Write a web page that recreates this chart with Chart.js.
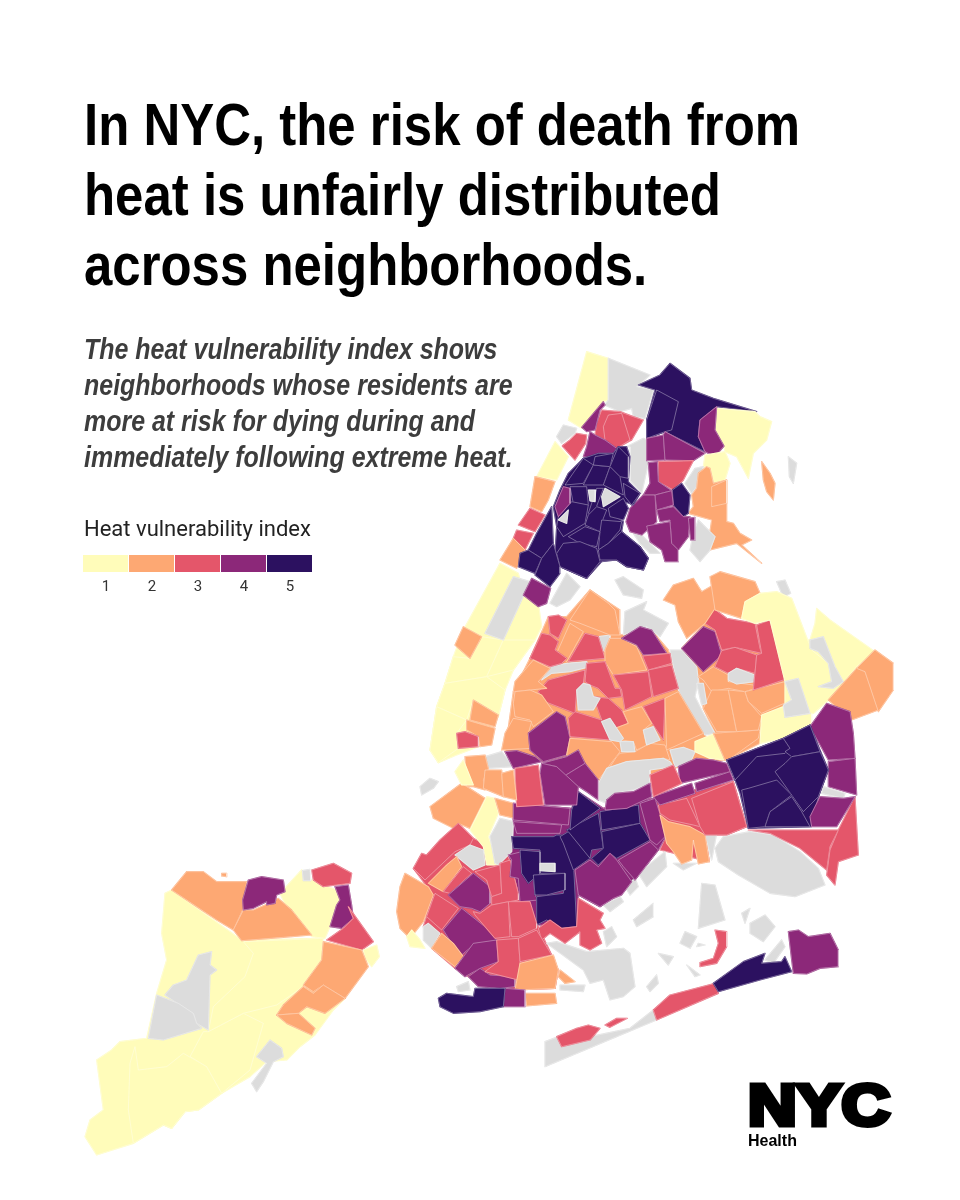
<!DOCTYPE html>
<html><head><meta charset="utf-8">
<script src="https://cdn.jsdelivr.net/npm/chart.js@4"></script>
<style>
html,body{margin:0;padding:0;background:#fff;width:960px;height:1200px;overflow:hidden}
#c{position:absolute;left:0;top:0}
.t{position:absolute;white-space:nowrap;transform-origin:0 0}
#title{left:84px;top:90px;font:bold 60px/70px "Liberation Sans",sans-serif;color:#000;transform:scaleX(.849)}
#sub{left:84px;top:331px;font:italic bold 30px/36px "Liberation Sans",sans-serif;color:#3d3d3d;transform:scaleX(.832)}
#lt{left:84px;top:516px;font:22px/26px Roboto,sans-serif;color:#222}
.sw{position:absolute;top:555px;height:17px}
.ll{position:absolute;top:577px;font:15px/18px Roboto,sans-serif;color:#333;width:46px;text-align:center}
#nyc{left:748px;top:1065px;font:900 58px/80px "Liberation Sans",sans-serif;color:#000;-webkit-text-stroke:5px #000;transform:scaleX(1.16)}
#hl{left:748px;top:1131px;font:bold 16px/20px "Liberation Sans",sans-serif;color:#000}
</style></head><body>
<canvas id="c" width="960" height="1200"></canvas>
<div class="t" id="title">In NYC, the risk of death from<br>heat is unfairly distributed<br>across neighborhoods.</div>
<div class="t" id="sub">The heat vulnerability index shows<br>neighborhoods whose residents are<br>more at risk for dying during and<br>immediately following extreme heat.</div>
<div class="t" id="lt">Heat vulnerability index</div>
<div id="leg"></div>
<div class="t" id="nyc">NYC</div>
<div class="t" id="hl">Health</div>
<script>
// index class colours: 0 = no data, 1..5 = heat vulnerability index
const levelColors = ['#dcdcdc','#fffcba','#fda873','#e4566a','#8c2879','#2c1160'];
const legendLabels = ['1','2','3','4','5'];

// Each area: [index class, x, y, x, y ...] on a 3x grid
const queensLand = [
[2,330,295,385,170,440,170,510,90,600,150,600,225,690,205,745,270,775,385,850,520,920,600,780,620,690,645,540,680,495,610,440,590,365,605,255,575,280,395],
[2,785,265,855,190,1010,195,1050,180,1105,355,1115,420,1095,465,1020,550,920,600,885,520,850,445,835,350],
[1,1165,240,1210,230,1310,320,1225,420,1180,460,1095,465,1095,365,1140,300],
];
const brooklynLand = [
[3,640,85,790,55,1030,5,1070,140,1010,165,945,165,958,245,810,210,830,165],
[4,370,70,545,85,565,35,640,85,790,55,830,165,805,210,735,300,670,355,630,380,565,345,560,440,440,435,385,340,355,225,370,170],
[3,70,265,205,130,250,175,355,230,385,340,440,430,485,525,505,570,495,625,375,630,345,625,235,590,195,565,125,505,100,440,130,345],
];

const bronxAreas = [
[1,500,35,565,55,565,180,550,185,485,265,445,240],
[0,565,55,690,105,650,140,700,150,675,235,640,230,635,205,600,215,553,195,565,180],
[5,655,135,720,105,750,70,810,115,815,150,880,175,1010,215,890,200,840,240,835,290,855,335,735,275,680,295,680,240,705,150],
[5,710,150,775,185,755,270,735,275,680,295,680,240],
[1,890,205,1005,215,1020,230,1055,245,1040,300,1000,340,985,415,950,350,915,335,912,318,885,270],
[4,890,200,840,240,835,290,855,335,885,350,912,318,885,270],
[1,855,345,915,335,930,370,915,420,880,430,870,385,850,380],
[0,825,385,850,380,830,440,815,460,795,430],
[2,860,380,835,400,830,445,815,465,820,500,805,520,875,540,870,575,885,590,870,630,950,610,1025,670,965,615,995,600,960,580,940,550,920,545,920,420,880,430,870,385],
[2,875,440,920,420,920,490,875,500],
[2,1025,365,1050,400,1065,430,1060,480,1040,455,1030,420],
[0,1105,350,1130,370,1120,430,1108,410],
[0,835,540,870,575,885,590,870,630,840,665,810,630,820,580],
[0,620,320,630,320,630,420,665,460,685,370,680,300,670,295],
[0,640,580,665,585,690,610,720,640,690,640,660,610],
[4,680,295,730,285,735,360,680,362],
[4,735,275,855,340,820,362,735,360,730,285],
[3,715,365,820,362,790,420,760,450,715,425],
[4,685,368,712,365,715,425,755,452,705,465,670,465,690,430],
[5,785,430,810,465,805,520,790,530,760,495,757,450],
[4,705,465,755,452,760,495,710,510],
[4,670,465,705,465,710,545,665,585,630,575,618,545,630,505],
[4,710,510,760,500,790,530,810,530,805,590,775,630,755,610,750,540,720,545],
[4,680,558,750,545,755,610,775,630,775,665,735,665,725,630,690,605],
[4,805,535,825,532,825,600,812,600],
[3,545,210,600,215,640,230,670,240,635,300,590,325,555,300,525,285,530,250],
[3,565,225,605,220,630,300,590,325,555,300,550,260],
[4,550,185,555,195,540,210,525,270,500,275,485,262],
[4,510,275,525,285,555,300,590,325,580,340,535,340,525,355,490,350,500,320],
[0,410,290,430,255,470,265,465,280,425,310],
[3,430,315,450,300,470,280,500,285,497,310,465,360,427,318],
[1,405,305,445,350,410,420,350,410],
[2,345,410,405,425,385,480,365,515,330,500],
[3,330,505,375,525,345,575,295,555],
[3,290,570,340,580,315,630,280,595],
[2,280,595,315,630,290,685,240,660],
[5,490,355,535,340,580,340,595,320,620,320,630,350,625,425,660,460,640,495,600,480,565,510,570,520,610,545,605,575,660,620,685,655,670,690,620,680,590,660,545,665,500,715,420,680,405,640,410,560,400,500,420,450,445,400],
[5,435,435,490,355,520,375,490,430],
[5,520,375,570,380,550,435,490,435],
[5,525,350,580,340,570,380,520,375],
[5,570,380,595,320,625,350,625,415,600,410],
[5,570,380,600,410,610,465,550,435],
[5,610,430,660,460,635,495,615,470],
[5,450,440,500,440,505,495,460,490],
[5,530,445,550,445,520,525,505,520],
[5,565,505,610,475,625,505,610,540,570,530],
[5,455,485,505,495,495,550,430,590,410,560,415,530],
[5,505,525,530,500,560,510,550,535,540,575,495,555],
[5,545,540,605,545,600,570,565,610,535,630,540,575],
[5,565,610,605,575,660,620,685,655,670,690,620,680,590,660,540,660,535,630],
[5,445,590,495,560,540,575,530,620,480,610],
[5,430,610,480,605,530,625,540,665,500,715,420,680,410,640],
[4,430,440,450,445,450,490,415,530,405,500],
[0,415,540,445,510,440,550],
[0,505,450,527,450,525,485,510,483],
[0,555,445,600,470,550,500,545,470],
[5,325,630,350,580,395,500,400,610,365,655],
[5,300,640,325,630,365,655,345,700,295,680],
[5,365,655,400,610,420,680,420,700,390,740,345,705],
[4,335,715,392,745,380,790,355,800,310,765],
];

const queensAreas = [
[1,240,10,295,40,310,95,355,130,365,200,345,240,280,330,255,390,235,470,175,560,110,585,55,608,30,570,50,440,75,370,100,290,130,210],
[1,100,290,150,295,185,230,250,240,200,350,75,370],
[1,250,240,345,240,280,330,200,350],
[1,75,370,200,350,255,390,235,470,160,420,140,480,50,440],
[1,50,440,140,480,110,520,115,565,55,608,30,570],
[0,280,50,330,65,250,240,195,220],
[2,130,200,185,230,150,295,105,255],
[2,160,420,235,465,225,500,150,480],
[2,140,480,225,505,215,555,180,560,175,530,150,515,140,510],
[3,110,520,135,515,175,530,175,560,115,565],
[0,585,60,610,50,670,90,665,115,610,105],
[0,615,155,680,125,670,150,745,190,720,230,680,200,610,225],
[0,1070,65,1095,60,1112,100,1090,112],
[0,750,270,785,270,830,320,835,360,825,410,850,460,885,520,855,525,820,480,775,390],
[0,390,130,440,40,480,80,450,120,410,140],
[0,365,360,390,320,440,310,500,305,510,320,450,335,395,340],
[0,535,230,570,225,570,245,555,275,540,265],
[0,195,590,245,575,280,620,205,625],
[0,0,680,30,655,55,665,40,685,5,705],
[2,450,180,510,90,565,130,585,150,600,225,570,225,480,190],
[3,385,170,415,165,440,180,415,235,390,220],
[2,450,190,490,215,440,305,410,280],
[3,365,220,390,225,415,245,405,270,440,295,425,310,390,320,330,295],
[3,495,220,535,230,555,295,445,305],
[2,570,235,605,235,650,260,680,330,580,345,555,305,555,270],
[4,605,235,660,200,695,210,740,280,670,285,650,255],
[3,668,288,750,280,755,310,685,330],
[3,685,330,755,315,775,385,700,410],
[3,580,345,685,335,695,410,615,450,605,390],
[3,500,310,555,305,585,385,600,385,605,410,565,415,535,385,510,375,495,365],
[3,385,360,495,330,490,370,470,395,465,460,375,425,355,395],
[2,340,300,390,325,355,365,380,385,280,395,285,365],
[2,285,395,330,390,365,405,400,455,340,500,330,480,285,470,280,430],
[2,280,475,335,485,325,520,335,565,245,570,255,520],
[4,410,455,435,470,450,535,440,585,370,605,330,570,325,520],
[3,445,475,465,455,545,480,520,410,565,415,605,450,625,490,585,510,570,540,450,530],
[0,470,390,490,370,510,375,520,410,540,415,520,450,475,450],
[3,670,440,735,415,730,540,690,480],
[2,610,455,665,440,695,490,670,510,680,555,650,570,640,545,605,540,585,505,625,490],
[2,735,415,775,395,850,520,740,570],
[2,450,535,575,545,600,575,535,660,495,610,440,585],
[2,600,580,645,575,690,550,735,555,750,600,730,595,620,605,565,625,545,660,590,590],
[0,545,485,570,475,610,535,600,545,570,540],
[0,670,510,700,500,720,540,680,555],
[0,600,545,640,545,645,575,605,575],
[0,750,570,790,562,825,575,810,610,765,620],
[0,530,680,560,625,620,605,730,595,750,605,760,620,690,630,690,670,640,690,580,700,560,730,535,720],
[1,825,545,880,522,915,600,870,595,825,575],
[2,880,520,1020,510,1015,535,925,600,915,600],
[2,835,350,880,320,925,345,925,365,1000,375,1005,385,975,395,925,385,875,395,850,360],
[2,875,390,925,390,950,515,890,515,850,445],
[2,925,390,975,395,985,425,1025,470,1015,510,950,515],
[2,975,395,1095,365,1115,420,1025,460,985,425],
[0,830,370,850,370,860,430,845,435],
[1,1025,465,1090,440,1095,470,1175,460,1175,490,1090,535,1020,550],
[4,785,265,850,200,885,215,905,285,850,335],
[3,855,190,880,145,920,175,1005,190,1020,265,1025,280,945,262,905,270,885,210],
[3,905,272,945,262,1010,285,1005,340,950,325,925,340,885,320],
[0,925,340,950,325,1005,345,1005,365,950,372,925,360],
[3,1010,195,1050,180,1105,355,1000,390,1010,285,1025,280],
[2,730,120,760,75,820,55,845,95,880,75,885,145,855,190,800,235,775,185,765,135],
[2,870,50,900,35,1005,65,1020,100,975,125,965,175,885,150],
[1,975,125,1020,100,1070,95,1115,115,1165,245,1175,270,1225,310,1270,370,1225,420,1180,460,1095,465,1095,365,1050,180,1005,190,965,175],
[1,1190,145,1230,180,1365,275,1310,320,1270,370,1230,300,1210,230,1170,240,1185,190],
[0,1170,240,1210,230,1245,320,1270,365,1240,385,1195,380,1235,365,1225,310,1195,275,1170,265],
[0,1095,365,1135,355,1150,400,1170,460,1095,472,1090,435,1115,420],
[2,1225,420,1310,325,1335,335,1375,450,1295,480],
[2,1310,325,1365,270,1420,310,1420,390,1375,455,1335,335],
[4,1170,500,1220,430,1290,455,1300,520,1305,595,1225,600],
[4,1225,605,1305,595,1310,705,1225,680],
[0,1210,680,1275,700,1270,715,1205,700],
[5,920,600,1090,535,1170,495,1200,570,1225,630,1195,710,1175,800,985,805,960,700,945,660],
[5,920,600,1090,535,1110,565,1095,580,1010,590,945,660],
[5,1090,535,1170,495,1200,575,1115,590,1095,575,1110,565],
[5,1065,635,1095,610,1115,590,1200,575,1225,630,1195,710,1150,755,1115,705],
[5,965,690,985,685,1070,660,1115,705,1050,755,1035,800,985,805],
[5,1035,800,1050,755,1115,710,1145,755,1170,800],
[4,1170,770,1200,710,1270,715,1305,710,1250,800,1175,800],
[4,775,620,830,595,880,600,920,610,930,635,780,670],
[4,825,670,930,635,940,660,830,695],
[4,700,710,815,670,825,700,720,735],
[3,690,645,760,615,785,670,700,710],
[4,560,720,585,700,640,695,690,670,695,710,620,745,555,750],
[4,255,575,290,572,345,590,365,605,280,625],
[4,365,610,440,590,475,570,495,610,430,650,410,620],
[4,430,650,495,610,535,660,535,720,500,695],
[4,365,610,410,620,475,680,470,735,375,735,360,640],
[3,285,625,355,615,370,735,290,740],
[2,135,590,195,585,205,625,190,660,195,690,160,680,140,680],
[2,195,630,245,630,250,710,190,685],
[2,245,640,280,630,290,720,250,710],
[1,105,635,130,600,160,675,125,675],
];

const brooklynAreas = [
[0,975,205,1000,170,1080,155,1150,165,1230,215,1285,265,1305,315,1215,350,1140,340,1045,285,985,245],
[0,470,490,500,485,590,515,700,505,720,520,735,620,700,650,660,660,640,600,600,610,580,570],
[0,510,615,585,615,580,635,510,630],
[0,730,420,790,370,790,410,740,440],
[0,935,310,975,315,1005,420,925,445],
[0,805,520,850,530,835,555],
[0,770,620,800,585,805,610,780,635],
[0,890,555,930,585,915,590],
[0,1080,430,1125,405,1155,440,1120,485,1080,460],
[0,1125,540,1175,480,1185,500,1150,550],
[0,1055,400,1080,385,1065,430],
[0,870,490,885,455,920,470,900,505],
[0,925,490,945,495,920,500],
[0,640,375,690,350,700,365,660,395],
[0,640,455,665,440,680,470,650,500],
[0,705,320,735,295,745,320,720,345],
[0,745,280,825,215,830,260,770,320],
[0,850,250,890,250,920,250,880,270],
[0,945,165,980,160,965,240],
[0,465,785,505,770,515,800,600,770,720,745,790,690,800,720,680,770,465,860],
[2,120,80,215,10,285,55,240,145,205,130,190,145,130,115],
[1,290,50,315,55,325,100,295,170,325,255,290,255,280,200,240,150],
[2,315,55,370,70,375,115,330,105],
[0,300,170,330,115,370,125,365,215,325,255,315,250],
[3,70,265,95,220,110,225,150,180,205,130,250,175,240,195,195,215,105,300],
[0,195,225,240,195,280,210,285,255,250,270],
[2,115,310,170,255,200,230,215,260,160,335],
[3,160,335,220,260,245,280,180,340],
[2,45,280,115,320,130,345,100,425,60,475,30,445,20,395,30,320],
[1,65,450,90,480,105,505,60,500,50,470],
[0,100,440,115,430,150,460,125,505,100,480],
[3,135,340,205,385,155,450,110,410],
[4,175,345,250,280,300,320,300,370,270,395,245,385,210,380],
[4,160,450,215,385,310,460,320,480,250,495,215,525,185,490],
[2,125,505,155,460,190,490,220,530,195,560],
[4,195,565,250,490,320,480,325,545,270,565,225,590],
[4,235,590,270,565,300,585,375,590,375,620,330,625,265,620],
[3,255,275,330,255,335,340,305,350,290,300],
[3,330,250,360,240,385,340,385,360,305,375,305,350,335,340],
[4,370,70,540,85,535,135,370,120],
[4,370,125,515,135,510,160,380,160],
[4,355,225,395,215,395,270,430,300,435,345,445,360,390,365,385,295,360,290,365,240],
[5,365,170,490,170,500,165,515,165,550,240,560,440,515,445,470,420,440,435,440,350,520,340,525,280,450,280,450,210,370,205],
[5,390,210,450,215,450,280,415,310,395,280],
[5,430,285,525,280,525,330,470,345,435,345],
[0,450,250,495,250,495,275,450,272],
[5,510,170,535,155,600,210,600,235,550,270,520,190],
[5,530,150,625,100,640,205,605,210,600,235,535,155],
[5,545,90,565,35,630,85,540,150],
[5,630,95,745,75,750,130,635,150],
[5,635,155,750,130,780,180,680,235,660,220,625,255,605,235,640,205],
[4,750,70,795,55,830,165,800,195,780,180],
[4,555,270,600,240,625,260,660,220,680,240,725,305,695,345,670,355,630,380,565,345],
[4,685,240,780,185,805,210,735,300,700,260],
[3,565,355,640,400,630,420,645,445,620,450,635,490,600,510,570,495,570,455,525,490,480,460,455,480,445,445,480,420,515,445,560,440],
[3,250,395,270,400,305,375,355,365,360,470,315,475,255,405],
[3,355,365,420,365,440,430,440,445,385,470,365,470],
[3,320,480,385,475,390,545,385,600,285,575,325,545],
[3,385,475,440,450,485,525,390,545],
[2,390,550,490,525,505,570,495,625,375,630],
[2,510,570,555,605,525,610,505,590],
[2,405,640,495,640,500,670,410,678],
[4,345,625,405,630,405,680,340,680],
[5,145,655,170,640,250,650,255,625,345,625,340,680,270,695,190,700,150,680],
[0,200,620,235,605,240,630,205,635],
[3,500,770,560,745,595,735,630,745,600,780,515,800],
[3,645,735,680,715,712,715,660,742],
[3,790,690,840,645,975,610,985,640,800,720],
[5,970,610,1060,545,1125,520,1115,550,1175,545,1185,530,1205,575,1110,600,985,635],
[4,1195,455,1225,450,1255,470,1320,460,1345,510,1345,560,1290,565,1250,582,1210,580,1205,540],
[3,1075,150,1345,150,1320,200,1310,270,1230,205,1140,160],
[3,1345,150,1395,50,1405,225,1345,245,1335,315,1310,285,1320,210],
[3,975,450,1010,455,1010,500,980,550,930,560,930,548,970,535,985,490],
[2,810,105,835,125,900,140,945,165,958,245,925,252,910,180,905,240,875,252,850,215,830,190],
[3,805,75,890,55,930,140,910,135,840,120,810,100],
[3,905,55,1030,5,1070,140,1010,165,945,165,930,140],
];

const statenAreas = [
[1,305,120,515,270,760,265,760,330,700,410,825,445,790,480,735,555,690,590,650,630,590,635,540,680,455,730,385,780,345,785,305,835,280,825,190,880,80,915,45,860,60,810,100,780,80,630,125,600,150,575,230,565,260,430,290,330,275,250,285,130],
[1,195,590,205,660,290,650,340,610,410,650,455,730,385,780,345,785,305,835,280,825,190,880,175,780,180,640],
[1,415,545,520,490,580,520,560,590,540,660,455,730,410,650,360,620,400,545],
[1,430,470,525,380,550,310,520,275,760,265,760,330,700,410,620,465,520,490,415,545],
[1,630,130,695,60,725,90,800,120,810,150,780,230,765,265,725,260,650,175],
[2,305,120,350,65,400,65,440,95,530,95,520,175,490,240,440,210,380,170],
[2,490,240,520,180,550,180,585,165,625,145,665,180,725,255,640,262,515,272],
[4,535,90,575,80,640,90,645,125,620,135,615,160,590,165,590,155,550,175,520,180,518,150],
[3,725,60,790,40,845,70,840,100,800,105,760,110,730,90],
[4,795,110,835,105,845,165,850,205,815,235,780,230,800,165,810,150],
[3,835,170,910,275,875,300,770,270,820,235,850,205],
[1,880,300,920,285,928,320,905,350,885,325],
[2,760,275,875,300,895,350,825,445,760,405,730,425,700,405,755,330],
[2,700,410,730,430,760,405,825,445,765,490,710,470,685,490,620,495,640,465],
[2,620,495,685,490,735,535,725,555,650,520],
[0,385,315,425,305,420,345,440,360,420,375,415,540,380,520,370,490,330,465,285,435,310,405,350,390],
[0,260,435,325,460,370,490,380,520,395,535,280,570,235,565],
[0,560,620,600,570,635,595,640,620,610,635,580,695,560,725,545,700,590,640],
[0,697,62,720,58,722,92,700,92],
[2,455,70,470,70,470,80,455,78],
];

// picture regions the area lists were read from, in paint order
const areaGroups = [
  {areas: queensLand,    left: 420, top: 560},
  {areas: brooklynLand,  left: 390, top: 780},
  {areas: statenAreas,   left: 70,  top: 850},
  {areas: brooklynAreas, left: 390, top: 780},
  {areas: queensAreas,   left: 420, top: 560},
  {areas: bronxAreas,    left: 420, top: 340},
];
const gridScale = 3;

const datasets = [];
areaGroups.forEach(g => g.areas.forEach(a => {
  const pts = [];
  for (let i = 1; i < a.length; i += 2) pts.push({x: g.left + a[i] / gridScale, y: g.top + a[i + 1] / gridScale});
  pts.push({...pts[0]});
  datasets.push({data: pts, showLine: true, tension: 0, pointRadius: 0, pointHoverRadius: 0,
    borderColor: 'rgba(255,255,255,0.5)', borderWidth: 0.7, borderJoinStyle: 'round',
    backgroundColor: levelColors[a[0]], fill: false});
}));

const polygonFill = {
  id: 'polygonFill',
  beforeDatasetDraw(chart, args) {
    const pts = args.meta.data, ctx = chart.ctx;
    const colour = chart.data.datasets[args.index].backgroundColor;
    ctx.save();
    ctx.beginPath();
    pts.forEach((p, i) => i ? ctx.lineTo(p.x, p.y) : ctx.moveTo(p.x, p.y));
    ctx.closePath();
    ctx.fillStyle = colour;
    ctx.strokeStyle = colour;
    ctx.lineWidth = 1.2;
    ctx.lineJoin = 'round';
    ctx.fill();
    ctx.stroke();
    ctx.restore();
  }
};

// Chart.js draws higher order first; make listed order paint bottom-up
datasets.forEach((d, i) => d.order = datasets.length - i);

new Chart(document.getElementById('c'), {
  type: 'scatter',
  data: {datasets},
  plugins: [polygonFill],
  options: {
    responsive: false, animation: false, devicePixelRatio: 1,
    layout: {padding: 0},
    plugins: {legend: {display: false}, tooltip: {enabled: false}},
    events: [],
    scales: {
      x: {type: 'linear', min: 0, max: 960, display: false},
      y: {type: 'linear', min: 0, max: 1200, reverse: true, display: false}
    }
  }
});

const leg = document.getElementById('leg');
legendLabels.forEach((lab, i) => {
  const s = document.createElement('div'); s.className = 'sw';
  s.style.left = (83 + i * 46) + 'px'; s.style.width = '45px';
  s.style.background = levelColors[i + 1]; leg.appendChild(s);
  const l = document.createElement('div'); l.className = 'll';
  l.style.left = (83 + i * 46) + 'px'; l.textContent = lab; leg.appendChild(l);
});
</script>
</body></html>
